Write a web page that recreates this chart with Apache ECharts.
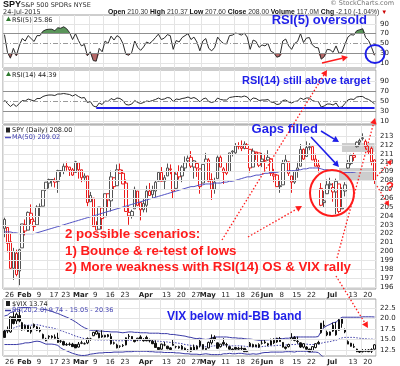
<!DOCTYPE html>
<html><head><meta charset="utf-8">
<script src="https://cdn.jsdelivr.net/npm/echarts@6.0.0/dist/echarts.min.js"></script>
<style>html,body{margin:0;padding:0;background:#fff;}#chart{width:400px;height:366px;}</style>
</head><body><div id="chart"></div>
<script>
// ---------- DATA ----------
const dates = [
 '2015-01-26','2015-01-27','2015-01-28','2015-01-29','2015-01-30',
 '2015-02-02','2015-02-03','2015-02-04','2015-02-05','2015-02-06','2015-02-09','2015-02-10','2015-02-11','2015-02-12','2015-02-13','2015-02-17','2015-02-18','2015-02-19','2015-02-20','2015-02-23','2015-02-24','2015-02-25','2015-02-26','2015-02-27',
 '2015-03-02','2015-03-03','2015-03-04','2015-03-05','2015-03-06','2015-03-09','2015-03-10','2015-03-11','2015-03-12','2015-03-13','2015-03-16','2015-03-17','2015-03-18','2015-03-19','2015-03-20','2015-03-23','2015-03-24','2015-03-25','2015-03-26','2015-03-27','2015-03-30','2015-03-31',
 '2015-04-01','2015-04-02','2015-04-06','2015-04-07','2015-04-08','2015-04-09','2015-04-10','2015-04-13','2015-04-14','2015-04-15','2015-04-16','2015-04-17','2015-04-20','2015-04-21','2015-04-22','2015-04-23','2015-04-24','2015-04-27','2015-04-28','2015-04-29','2015-04-30',
 '2015-05-01','2015-05-04','2015-05-05','2015-05-06','2015-05-07','2015-05-08','2015-05-11','2015-05-12','2015-05-13','2015-05-14','2015-05-15','2015-05-18','2015-05-19','2015-05-20','2015-05-21','2015-05-22','2015-05-26','2015-05-27','2015-05-28','2015-05-29',
 '2015-06-01','2015-06-02','2015-06-03','2015-06-04','2015-06-05','2015-06-08','2015-06-09','2015-06-10','2015-06-11','2015-06-12','2015-06-15','2015-06-16','2015-06-17','2015-06-18','2015-06-19','2015-06-22','2015-06-23','2015-06-24','2015-06-25','2015-06-26','2015-06-29','2015-06-30',
 '2015-07-01','2015-07-02','2015-07-06','2015-07-07','2015-07-08','2015-07-09','2015-07-10','2015-07-13','2015-07-14','2015-07-15','2015-07-16','2015-07-17','2015-07-20','2015-07-21','2015-07-22','2015-07-23','2015-07-24'
];
const spyOpen = [
 202.6,202.7,201.1,198.1,199.8,
 197.8,200.4,203.0,202.4,204.3,203.4,203.0,205.0,205.1,207.0,207.7,208.0,208.0,207.9,209.1,209.0,209.6,209.5,209.2,
 208.9,210.0,209.2,208.3,208.5,205.6,206.0,202.9,202.5,204.9,203.9,206.5,205.7,208.3,207.4,209.2,208.8,207.7,204.4,204.0,204.8,206.8,
 205.5,204.7,205.2,206.8,206.4,206.8,207.9,208.9,207.9,208.5,209.3,209.0,207.1,209.0,208.5,209.4,210.2,210.6,209.5,209.9,209.3,
 207.7,210.0,210.3,208.1,207.0,208.2,210.6,209.3,209.0,209.0,211.2,211.1,211.9,211.8,211.6,212.0,211.5,209.5,211.2,211.1,
 210.1,210.2,210.3,210.4,208.7,208.6,207.3,207.5,210.0,210.1,208.5,207.8,209.1,209.6,211.5,210.7,211.7,211.8,210.4,209.7,207.1,205.5,
 206.5,207.6,207.2,206.7,207.6,204.8,206.8,209.4,209.9,210.8,211.8,212.3,212.8,212.4,211.2,211.6,210.30
];
const spyHigh = [
 203.8,202.7,202.1,200.4,200.2,
 200.3,203.1,203.6,204.5,205.3,203.7,205.2,205.4,207.0,207.8,208.2,208.1,208.3,209.2,209.1,209.9,210.1,209.5,209.4,
 210.2,210.0,209.2,208.8,208.5,206.7,206.0,203.4,205.0,204.9,206.5,206.5,209.1,208.3,209.8,209.9,209.2,208.1,205.1,204.7,207.3,206.8,
 205.5,205.9,207.4,207.7,207.4,208.0,209.0,209.5,208.6,209.9,209.8,209.0,208.9,209.7,209.7,210.7,210.8,211.3,210.3,210.1,209.3,
 209.8,211.1,210.5,208.8,208.3,210.8,210.8,209.5,210.0,211.1,211.4,212.2,212.3,212.5,212.4,212.2,211.5,211.6,211.2,211.1,
 211.1,211.0,211.4,210.5,209.3,208.7,208.0,210.3,210.9,210.1,208.5,209.1,210.1,212.1,211.6,212.4,212.2,211.9,211.0,210.3,207.7,206.8,
 208.1,208.3,207.7,208.2,207.6,207.2,207.8,210.3,211.0,211.1,212.4,212.7,213.3,212.6,211.9,211.8,210.37
];
const spyLow = [
 201.6,199.9,198.0,196.8,197.2,
 196.2,200.4,201.8,202.4,203.1,202.3,203.0,203.9,205.1,206.8,207.1,207.3,207.2,206.6,208.4,208.7,209.1,208.5,208.5,
 208.9,208.2,207.8,207.9,205.1,205.6,202.8,202.4,202.5,202.5,203.9,204.9,204.5,207.0,207.4,208.8,207.6,204.5,203.0,203.7,204.8,205.1,
 203.5,204.4,204.4,206.3,206.0,206.1,207.9,207.9,207.0,208.5,208.7,205.9,207.1,208.1,207.8,209.0,210.0,209.4,208.2,208.4,206.5,
 207.7,210.0,207.8,205.8,206.5,208.2,209.5,207.6,208.6,209.0,210.7,211.0,211.5,211.3,211.5,211.6,208.9,209.5,210.3,209.5,
 209.5,209.1,210.2,208.5,207.8,207.3,206.6,207.5,210.0,208.5,206.6,207.6,208.3,209.6,210.3,210.7,211.4,210.3,209.6,208.9,205.1,205.0,
 206.5,206.9,205.6,204.2,204.3,204.8,206.2,209.3,209.7,210.2,211.7,211.9,212.5,211.5,210.9,209.7,207.60
];
const spyClose = [
 203.6,200.9,198.1,200.0,197.4,
 200.2,203.1,202.3,204.4,203.6,202.8,205.0,205.0,206.9,207.8,208.1,208.1,207.8,209.1,209.1,209.6,209.5,209.2,208.6,
 210.1,209.2,208.3,208.5,205.5,206.3,202.8,202.4,205.0,203.7,206.5,205.8,208.4,207.3,209.2,208.8,207.6,204.5,204.0,204.5,207.0,205.2,
 204.7,205.4,206.8,206.3,206.9,207.8,208.9,207.9,208.3,209.4,209.2,206.8,208.7,208.4,209.5,210.0,210.5,209.6,210.2,209.4,207.3,
 209.8,210.4,207.9,207.0,207.8,210.6,209.5,208.9,208.8,211.1,211.3,211.9,211.8,211.6,212.1,211.6,209.4,211.3,211.1,209.7,
 210.4,210.2,210.6,208.8,208.5,207.3,207.4,209.9,210.3,208.8,207.8,209.0,209.4,211.5,210.4,211.7,211.8,210.3,209.6,209.5,205.2,205.7,
 207.5,207.5,206.7,207.9,204.5,204.9,207.5,209.9,210.8,210.6,212.3,212.5,212.7,211.8,211.3,210.1,208.00
];
const ma50 = [
 202.2,202.2,202.2,202.1,202.1,
 202.0,202.0,202.0,202.0,202.0,202.0,202.1,202.2,202.3,202.4,202.5,202.6,202.7,202.8,202.9,203.0,203.1,203.2,203.3,
 203.4,203.5,203.6,203.7,203.8,203.9,204.0,204.1,204.2,204.3,204.4,204.5,204.6,204.7,204.8,204.9,205.0,205.1,205.2,205.3,205.4,205.5,
 205.6,205.7,205.8,205.9,206.0,206.1,206.2,206.3,206.4,206.5,206.6,206.7,206.8,206.9,207.0,207.1,207.2,207.3,207.3,207.4,207.5,
 207.5,207.6,207.6,207.6,207.7,207.7,207.7,207.8,207.8,207.9,207.9,208.0,208.1,208.2,208.3,208.4,208.4,208.5,208.6,208.6,
 208.7,208.8,208.8,208.9,208.9,208.9,209.0,209.0,209.0,209.1,209.1,209.1,209.2,209.2,209.3,209.3,209.4,209.4,209.4,209.4,209.3,209.2,
 209.2,209.1,209.1,209.0,209.0,208.9,208.9,208.9,208.9,208.9,209.0,209.0,209.0,209.0,209.0,209.0,209.02
];
const rsi5 = [
 68,32,20,40,25,
 45,60,55,66,60,54,66,66,75,78,79,79,76,82,81,84,80,72,58,
 70,56,45,48,25,33,15,14,40,33,55,50,65,57,66,62,50,28,26,32,55,42,
 36,43,53,50,55,62,69,58,61,68,66,38,56,53,62,66,70,58,63,53,35,
 55,60,40,35,42,63,55,50,49,66,67,71,70,67,71,63,38,57,54,42,
 47,45,50,34,31,22,24,55,59,45,38,50,54,70,52,61,62,47,42,41,18,23,
 38,37,32,45,30,32,48,63,68,67,76,78,80,62,56,42,25.86
];
const rsi14 = [
 52,45,39,44,39,
 45,51,50,54,52,50,55,55,59,61,62,62,61,64,64,65,64,63,60,
 63,59,56,57,47,49,40,38,46,43,50,49,55,52,56,55,51,43,42,44,51,47,
 45,47,50,49,51,53,56,53,54,57,56,49,54,53,55,56,58,55,57,54,48,
 54,56,49,47,49,56,53,52,52,57,58,59,59,58,60,58,51,56,55,51,
 52,52,53,48,47,43,44,51,52,48,46,49,50,56,53,56,56,51,49,49,38,40,
 44,44,42,46,37,38,45,52,54,53,58,59,59,55,53,49,44.39
];
const vixOpen = [
 17.0,17.0,16.8,20.4,19.4,
 20.7,19.0,17.6,18.3,16.8,18.0,18.0,17.3,16.2,15.1,15.6,15.8,15.6,15.3,14.6,14.5,13.7,13.8,13.9,
 13.8,13.2,14.1,14.0,14.2,15.1,15.9,16.3,16.5,15.6,16.0,16.1,15.7,14.2,13.7,13.4,13.5,13.7,15.7,15.7,14.9,14.9,
 15.6,15.0,15.5,14.7,14.6,14.1,13.1,12.7,13.7,13.4,13.0,13.6,13.3,13.0,13.4,12.9,12.5,12.2,13.2,12.7,13.5,
 13.8,12.6,13.0,14.2,15.5,14.2,13.3,14.3,13.7,13.3,12.7,13.1,12.7,12.8,12.9,12.2,13.4,13.8,13.7,13.2,
 14.1,14.4,14.0,13.7,14.8,14.4,15.2,14.3,13.2,13.3,15.0,15.5,14.6,14.2,13.2,13.2,12.7,12.4,13.1,14.3,16.6,18.4,
 16.7,16.0,18.4,17.2,17.2,18.8,17.3,14.5,14.1,13.3,12.7,12.3,12.1,12.4,12.5,12.2,12.7
];
const vixHigh = [
 17.3,18.1,20.5,21.5,21.4,
 22.3,19.2,18.6,18.4,18.1,18.8,18.2,17.9,16.4,15.4,16.0,16.0,16.2,16.6,14.9,14.7,14.2,14.3,14.2,
 13.9,14.4,14.7,14.3,15.5,15.4,16.8,17.2,16.6,17.2,16.1,16.3,16.4,14.5,14.0,13.6,13.9,15.5,16.3,15.8,15.0,15.4,
 16.0,15.3,15.9,15.2,15.0,14.8,13.2,14.0,14.4,13.5,13.2,15.1,13.5,13.5,13.7,13.1,12.7,13.3,13.8,13.6,15.1,
 13.9,12.9,14.5,16.2,16.0,14.3,13.9,15.3,14.2,13.4,12.9,13.2,13.2,13.4,12.9,12.6,14.4,14.0,13.8,14.1,
 14.8,14.9,14.2,15.2,15.3,15.4,15.6,14.4,13.3,14.0,16.5,15.8,15.7,14.3,14.1,13.4,12.8,13.4,14.1,14.7,18.9,19.5,
 17.1,16.9,19.0,19.2,20.0,19.9,17.6,14.8,14.2,14.0,12.8,12.3,12.7,12.7,12.7,12.9,13.9
];
const vixLow = [
 15.4,16.5,16.6,18.6,18.7,
 19.1,17.1,17.2,16.8,16.4,17.7,17.0,16.7,15.2,14.6,14.9,15.2,15.2,14.2,14.2,13.6,13.5,13.5,13.3,
 13.0,13.1,13.9,13.8,13.9,14.7,15.8,16.2,15.3,15.4,15.5,15.5,13.8,13.8,12.9,13.0,13.2,13.6,15.0,14.9,14.3,14.6,
 14.8,14.5,14.6,14.3,13.9,13.0,12.5,12.6,13.4,12.7,12.5,13.5,12.9,12.8,12.6,12.3,12.1,12.0,12.3,12.6,13.1,
 12.6,12.3,12.9,13.8,14.7,12.8,13.1,13.6,13.1,12.6,12.2,12.6,12.4,12.5,12.1,12.0,13.2,13.1,13.2,13.0,
 13.8,14.0,13.4,13.6,13.9,14.2,14.4,13.1,12.6,13.1,14.8,14.6,14.0,13.0,12.9,12.6,12.0,12.1,12.9,13.9,16.4,17.8,
 15.8,15.9,16.8,15.9,17.1,17.8,16.5,13.9,13.3,13.0,12.0,11.8,11.9,12.0,12.0,11.8,12.6
];
const vixClose = [
 15.5,17.2,20.4,18.8,21.0,
 19.4,17.3,18.3,16.9,17.3,18.6,17.2,17.0,15.3,14.7,15.8,15.5,15.3,14.3,14.6,13.7,13.8,13.9,13.3,
 13.0,13.9,14.2,14.0,15.2,15.1,16.7,16.9,15.4,16.0,15.6,15.7,14.0,14.1,13.0,13.4,13.6,15.4,15.8,15.1,14.5,15.3,
 15.1,14.7,14.7,14.8,14.0,13.1,12.6,13.9,13.7,12.8,12.6,13.9,13.3,13.3,12.7,12.5,12.3,13.1,12.4,13.4,14.6,
 12.7,12.9,14.3,15.2,15.1,12.9,13.9,13.9,13.8,12.7,12.4,12.7,12.9,12.9,12.1,12.1,14.1,13.3,13.3,13.8,
 14.1,14.2,13.7,14.7,14.2,15.3,14.5,13.2,12.9,13.8,15.4,14.8,14.5,13.2,14.0,12.7,12.1,13.3,14.0,14.0,18.9,18.2,
 16.1,16.8,17.0,16.1,19.7,19.97,16.8,13.9,13.4,13.2,12.1,12.0,12.3,12.2,12.1,12.6,13.74
];
const bbUpper = [
 20.6,20.8,21.4,21.6,22.2,
 22.5,22.6,22.6,22.6,22.5,22.5,22.4,22.3,22.2,22.1,21.9,21.7,21.4,21.2,20.9,20.6,20.3,20.0,19.6,
 19.2,18.7,18.2,17.8,17.5,17.2,17.2,17.2,17.0,17.0,16.9,16.9,16.8,16.8,16.8,16.7,16.6,16.7,16.8,16.8,16.7,16.7,
 16.6,16.6,16.6,16.5,16.5,16.5,16.5,16.4,16.4,16.4,16.2,16.2,16.1,16.0,15.9,15.8,15.6,15.5,15.3,15.2,15.3,
 15.1,15.0,15.1,15.4,15.6,15.6,15.6,15.6,15.6,15.5,15.4,15.4,15.3,15.3,15.2,15.1,15.1,15.0,14.9,14.8,
 14.8,14.9,14.9,15.0,15.0,15.2,15.2,15.2,15.3,15.3,15.5,15.6,15.6,15.6,15.6,15.6,15.6,15.6,15.6,15.7,17.0,17.9,
 18.3,18.6,19.0,19.1,19.8,20.3,20.3,20.3,20.3,20.3,20.3,20.3,20.4,20.4,20.4,20.4,20.36
];
const bbMid = [
 17.2,17.3,17.6,17.7,18.0,
 18.2,18.3,18.4,18.4,18.4,18.5,18.5,18.4,18.2,18.0,17.9,17.8,17.6,17.4,17.1,16.9,16.6,16.4,16.1,
 15.8,15.6,15.4,15.2,15.1,15.0,15.0,14.9,14.9,14.9,14.9,14.9,14.8,14.8,14.7,14.7,14.7,14.8,14.8,14.8,14.8,14.8,
 14.8,14.8,14.8,14.7,14.7,14.6,14.6,14.5,14.5,14.4,14.3,14.3,14.2,14.1,14.0,13.8,13.7,13.6,13.5,13.4,13.4,
 13.3,13.3,13.3,13.4,13.5,13.5,13.5,13.6,13.6,13.6,13.5,13.5,13.5,13.5,13.4,13.3,13.3,13.3,13.2,13.2,
 13.3,13.4,13.4,13.5,13.5,13.6,13.6,13.6,13.7,13.7,13.8,13.8,13.9,13.9,13.9,13.9,13.8,13.8,13.8,13.8,14.1,14.3,
 14.4,14.5,14.7,14.8,15.1,15.4,15.5,15.5,15.5,15.5,15.4,15.3,15.2,15.2,15.1,15.1,15.05
];
const bbLower = [
 13.8,13.8,13.8,13.8,13.8,
 13.9,14.0,14.2,14.2,14.3,14.5,14.6,14.5,14.2,13.9,13.9,13.9,13.8,13.6,13.0,12.6,12.3,12.0,11.7,
 11.5,11.3,11.2,11.2,11.3,11.5,11.6,11.7,11.8,11.8,11.9,11.9,11.9,12.0,12.0,12.0,12.0,12.1,12.1,12.1,12.2,12.2,
 12.2,12.2,12.2,12.1,12.1,12.0,12.0,12.0,11.9,11.9,11.9,11.9,11.8,11.8,11.7,11.6,11.6,11.5,11.5,11.5,11.4,
 11.5,11.6,11.5,11.4,11.4,11.4,11.4,11.6,11.6,11.7,11.6,11.6,11.7,11.7,11.6,11.5,11.5,11.6,11.5,11.6,
 11.8,11.9,11.9,12.0,12.0,12.0,12.0,12.0,12.1,12.1,12.1,12.0,12.2,12.2,12.2,12.2,12.0,12.0,12.0,11.9,11.2,10.7,
 10.5,10.4,10.4,10.5,10.4,10.5,10.7,10.7,10.7,10.7,10.5,10.3,10.1,10.0,9.9,9.8,9.74
];
const tickDates = ['2015-01-26','2015-02-02','2015-02-09','2015-02-17','2015-02-23','2015-03-02','2015-03-09','2015-03-16','2015-03-23','2015-04-01','2015-04-13','2015-04-20','2015-04-27','2015-05-01','2015-05-11','2015-05-18','2015-05-26','2015-06-01','2015-06-08','2015-06-15','2015-06-22','2015-07-01','2015-07-13','2015-07-20'];
const tickTexts = ['26','Feb','9','17','23','Mar','9','16','23','Apr','13','20','27','May','11','18','26','Jun','8','15','22','Jul','13','20'];
const priceTicks = [196,197,198,199,200,201,202,203,204,205,206,207,208,209,210,211,212,213];
const rsiTicks = [10,30,50,70,90];
const vixTicks = [12.5,15.0,17.5,20.0,22.5];
const gapStart = ['2015-07-09','2015-07-08'];
const gapLow = [211.2,208.0];
const gapHigh = [212.2,209.4];
const rsi14Target = 36;
const rsi14TargetStart = '2015-03-11';

// ---------- CHART ----------
const chart = echarts.init(document.getElementById('chart'));
const F = '"DejaVu Sans", Verdana, sans-serif';
const A = '"Liberation Sans", Arial, sans-serif';
const tickMap = {}; tickDates.forEach((d,i)=>{tickMap[d]=tickTexts[i];});
const months = new Set(['Feb','Mar','Apr','May','Jun','Jul']);
const RED = '#ff1c1c', BLUE = '#1f1fe8';

const gridDefs = [
  {top:15, height:53},
  {top:70, height:54},
  {top:125, height:164},
  {top:299, height:57}
];
const grid = gridDefs.map(g => Object.assign({left:3, right:24, show:true, borderColor:'#9c9c9c', borderWidth:1, backgroundColor:'#fff'}, g));

const xAxis = grid.map((g,i)=>({
  type:'category', gridIndex:i, data:dates, boundaryGap:true,
  axisLine:{show:false}, axisTick:{show:false},
  axisLabel:{show: i>=2, interval:(idx,v)=>tickMap[v]!==undefined, align:'center', padding:[0,0,0,10],
    formatter:(v)=> months.has(tickMap[v]) ? '{b|'+tickMap[v]+'}' : tickMap[v],
    fontSize:7, color:'#222', fontFamily:F, margin:3,
    rich:{b:{fontWeight:'bold', fontSize:7, fontFamily:F, color:'#222'}}},
  splitLine:{show:true, interval:(idx,v)=>tickMap[v]!==undefined, lineStyle:{color:'#e4e4e4', width:1}}
}));
const yAxis = [
  {gridIndex:0, min:0, max:108},
  {gridIndex:1, min:4, max:112},
  {gridIndex:2, min:195.77, max:214.24},
  {gridIndex:3, min:11.07, max:24.64}
].map(a=>Object.assign({type:'value', position:'right', axisLabel:{show:false}, axisLine:{show:false}, axisTick:{show:false}, splitLine:{show:false}}, a));

function rsiLineStyle(v){
  if (v===70 || v===30) return {color:'#8f8f8f', width:1, type:'solid'};
  if (v===50) return {color:'#9a9a9a', width:1, type:[5,2,1,2]};
  return {color:'#e4e4e4', width:1, type:'solid'};
}
function gridSeries(i, ticks, fmt, styleFn, extra){
  return Object.assign({
    type:'line', xAxisIndex:i, yAxisIndex:i, data:[], silent:true, z:1, animation:false,
    markLine:{silent:true, symbol:['none','none'], animation:false,
      label:{show:true, position:'end', formatter:p=>fmt(p.value), color:'#222', fontSize:7, fontFamily:F, distance:4},
      data: ticks.map(v=>({yAxis:v, lineStyle:styleFn(v)}))}
  }, extra||{});
}
function rsiSeries(i, arr){
  const base = {type:'line', xAxisIndex:i, yAxisIndex:i, symbol:'none', silent:true, animation:false, z:2, lineStyle:{width:0, opacity:0}};
  return [
    Object.assign({}, base, {stack:'ob'+i, data: arr.map(()=>70)}),
    Object.assign({}, base, {stack:'ob'+i, data: arr.map(v=>Math.max(v,70)-70), areaStyle:{color:'#5a955a', opacity:1}}),
    Object.assign({}, base, {stack:'os'+i, data: arr.map(v=>Math.min(v,30))}),
    Object.assign({}, base, {stack:'os'+i, data: arr.map(v=>30-Math.min(v,30)), areaStyle:{color:'#b56868', opacity:1}}),
    {type:'line', xAxisIndex:i, yAxisIndex:i, data:arr, symbol:'none', silent:true, animation:false, z:3, lineStyle:{color:'#2a2a2a', width:1}}
  ];
}

const spyData = dates.map((d,k)=>{
  const redDay = k>0 && spyClose[k] < spyClose[k-1];
  const col = redDay ? '#ea1c1c' : '#1a1a1a';
  return {value:[spyOpen[k], spyClose[k], spyLow[k], spyHigh[k]],
    itemStyle:{color:'#fff', color0:col, borderColor: redDay ? col : '#555', borderColor0:col, borderWidth:1}};
});
const vixData = dates.map((d,k)=>[vixOpen[k], vixClose[k], vixLow[k], vixHigh[k]]);

const series = [
  gridSeries(0, rsiTicks, v=>String(v), rsiLineStyle),
  ...rsiSeries(0, rsi5),
  gridSeries(1, rsiTicks, v=>String(v), rsiLineStyle),
  ...rsiSeries(1, rsi14),
  {type:'line', xAxisIndex:1, yAxisIndex:1, data:[], silent:true, z:4,
   markLine:{silent:true, symbol:['none','none'], animation:false, label:{show:false},
     lineStyle:{color:BLUE, width:2, type:'solid'},
     data:[[{coord:[rsi14TargetStart, rsi14Target]},{coord:[dates[dates.length-1], rsi14Target]}]]}},
  gridSeries(2, priceTicks, v=>String(v), ()=>({color:'#e4e4e4', width:1, type:'solid'}), {
    markArea:{silent:true, animation:false, itemStyle:{color:'#cdcdcd'},
      data: gapStart.map((d,k)=>[{xAxis:d, yAxis:gapLow[k]},{xAxis:dates[dates.length-1], yAxis:gapHigh[k]}])}
  }),
  {type:'candlestick', xAxisIndex:2, yAxisIndex:2, data:spyData, barWidth:3, z:3, silent:true, animation:false},
  {type:'line', xAxisIndex:2, yAxisIndex:2, data:ma50, symbol:'none', silent:true, animation:false, z:4, lineStyle:{color:'#5252c4', width:1}},
  gridSeries(3, vixTicks, v=>v.toFixed(1), ()=>({color:'#e4e4e4', width:1, type:'solid'})),
  {type:'line', xAxisIndex:3, yAxisIndex:3, data:bbUpper, symbol:'none', silent:true, animation:false, z:3, lineStyle:{color:'#3a3aa6', width:1}},
  {type:'line', xAxisIndex:3, yAxisIndex:3, data:bbMid, symbol:'none', silent:true, animation:false, z:3, lineStyle:{color:'#3a3aa6', width:1, type:[1.5,1.5]}},
  {type:'line', xAxisIndex:3, yAxisIndex:3, data:bbLower, symbol:'none', silent:true, animation:false, z:3, lineStyle:{color:'#3a3aa6', width:1}},
  {type:'candlestick', xAxisIndex:3, yAxisIndex:3, data:vixData, barWidth:2, z:4, silent:true, animation:false,
   itemStyle:{color:'#fff', color0:'#111', borderColor:'#111', borderColor0:'#111', borderWidth:1}}
];

// ---------- ANNOTATIONS ----------
const G = [];
function txt(x, y, text, font, fill, align){
  G.push({type:'text', x:x, y:y, z:100, silent:true,
    style:{text:text, font:font, fill:fill, textAlign:align||'left', align:align||'left', textVerticalAlign:'top', verticalAlign:'top'}});
}
function arrow(x1,y1,x2,y2,color,width,dash,head){
  const hl = head||6, hw = hl*0.55;
  const ang = Math.atan2(y2-y1, x2-x1);
  const bx = x2 - hl*Math.cos(ang), by = y2 - hl*Math.sin(ang);
  const px = -Math.sin(ang)*hw, py = Math.cos(ang)*hw;
  G.push({type:'line', z:100, silent:true, shape:{x1:x1,y1:y1,x2:bx,y2:by}, style:{stroke:color, lineWidth:width, lineDash:dash||null}});
  G.push({type:'polygon', z:100, silent:true, shape:{points:[[x2,y2],[bx+px,by+py],[bx-px,by-py]]}, style:{fill:color}});
}
function ellipse(cx,cy,rx,ry,color,w){
  G.push({type:'ellipse', z:100, silent:true, shape:{cx:cx,cy:cy,rx:rx,ry:ry}, style:{fill:null, stroke:color, lineWidth:w}});
}
// header
txt(3, 0, 'SPY', 'bold 9px '+A, '#111');
txt(21, 1.5, 'S&P 500 SPDRs NYSE', '6.5px '+F, '#333');
txt(3, 8.5, '24-Jul-2015', '6.5px '+F, '#333');
G.push({type:'text', x:108, y:8.5, z:100, silent:true, style:{
  text:'{b|Open} 210.30 {b|High} 210.37 {b|Low} 207.60 {b|Close} 208.00 {b|Volume} 117.0M {b|Chg} -2.10 (-1.04%) {r|▼}',
  font:'6.8px '+A, fill:'#333', rich:{b:{fontWeight:'bold', fontSize:6.8, fontFamily:A, fill:'#111'}, r:{fontSize:6, fill:'#c00'}}}});
txt(394, 0, '© StockCharts.com', '6.5px '+F, '#777', 'right');
// panel labels
G.push({type:'polygon', z:100, silent:true, shape:{points:[[6,21],[8.5,16.5],[11,21]]}, style:{fill:'#2f7a2f'}});
txt(12, 16.5, 'RSI(5) 25.86', '6.5px '+F, '#222');
G.push({type:'polygon', z:100, silent:true, shape:{points:[[6,76],[8.5,71.5],[11,76]]}, style:{fill:'#2f7a2f'}});
txt(12, 71.5, 'RSI(14) 44.39', '6.5px '+F, '#222');
G.push({type:'rect', z:100, silent:true, shape:{x:6, y:127.5, width:4, height:5}, style:{fill:'#222'}});
txt(12, 127, 'SPY (Daily) 208.00', '6.5px '+F, '#222');
G.push({type:'line', z:100, silent:true, shape:{x1:5, y1:137.5, x2:11, y2:137.5}, style:{stroke:'#5252c4', lineWidth:1.5}});
txt(12, 134, 'MA(50) 209.02', '6.5px '+F, '#4040b0');
G.push({type:'rect', z:100, silent:true, shape:{x:6, y:301, width:4, height:5}, style:{fill:'#222'}});
txt(12, 300.5, '$VIX 13.74', '6.5px '+F, '#222');
G.push({type:'line', z:100, silent:true, shape:{x1:5, y1:310.5, x2:11, y2:310.5}, style:{stroke:'#3a3aa6', lineWidth:1.5}});
txt(12, 307, 'BB(20,2.0) 9.74 - 15.05 - 20.36', '6.5px '+F, '#4040b0');

// annotations
const dot = [1.5, 2];
txt(367, 14, 'RSI(5) oversold', 'bold 13px '+A, BLUE, 'right');
ellipse(375, 54, 9.5, 9, BLUE, 2);
arrow(322, 63, 348, 57, RED, 1.5, null, 6);
txt(242, 75, 'RSI(14) still above target', 'bold 11px '+A, BLUE);
txt(318, 123, 'Gaps filled', 'bold 13px '+A, BLUE, 'right');
arrow(321, 131, 339, 142, BLUE, 1.5, null, 6);
arrow(311, 137, 339, 167, BLUE, 1.5, null, 6);
ellipse(332, 193, 22, 23, RED, 2);
arrow(222, 240, 327, 70, RED, 1.3, dot, 6);
arrow(248, 237, 302, 206, RED, 1.3, dot, 6);
arrow(337, 258, 375, 118, RED, 1.3, dot, 6);
arrow(336, 276, 368, 328, RED, 1.3, dot, 6);
arrow(377, 176, 392, 160, RED, 1.3, dot, 5);
arrow(377, 186, 389, 206, RED, 1.3, dot, 5);
txt(386, 181, '?', 'bold 13px '+A, RED);
txt(65, 228, '2 possible scenarios:', 'bold 13.3px '+A, RED);
txt(65, 245, '1) Bounce & re-test of lows', 'bold 13.3px '+A, RED);
txt(65, 261, '2) More weakness with RSI(14) OS & VIX rally', 'bold 13.3px '+A, RED);
txt(167, 311, 'VIX below mid-BB band', 'bold 12px '+A, BLUE);

chart.setOption({
  animation:false,
  backgroundColor:'#fff',
  grid:grid, xAxis:xAxis, yAxis:yAxis, series:series,
  graphic:{elements:G}
});
</script>
</body></html>
